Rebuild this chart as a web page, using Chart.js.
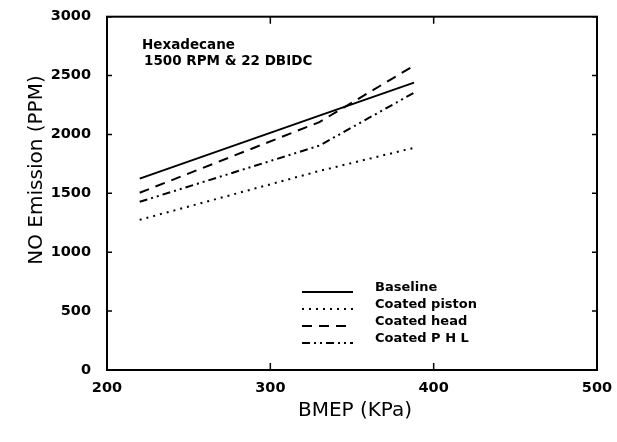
<!DOCTYPE html>
<html>
<head>
<meta charset="utf-8">
<script src="https://cdn.jsdelivr.net/npm/chart.js@4.4.1/dist/chart.umd.min.js"></script>
<style>
  html, body { margin: 0; padding: 0; background: #fff; }
  #wrap { width: 617px; height: 442px; position: relative; }
</style>
</head>
<body>
<div id="wrap"><canvas id="chartNO"></canvas></div>
<script>
// BMEP (KPa) at each measured load
var bmep = [220, 330, 388];

// NO emission (PPM)
var baseline = [1625, 2160, 2440];
var coatedPiston = [1275, 1690, 1887];
var coatedHead = [1505, 2105, 2585];
var coatedPHL = [1428, 1905, 2355];

var xTicks = [200, 300, 400, 500];
var yTicks = [0, 500, 1000, 1500, 2000, 2500, 3000];

var seriesNames = ["Baseline", "Coated piston", "Coated head", "Coated P H L"];
var seriesDash = [[], [2, 5], [10, 7], [8, 4, 2, 4, 2, 4]];

var FONT = "'DejaVu Sans', sans-serif";

function points(ys) {
  return bmep.map(function (x, i) { return { x: x, y: ys[i] }; });
}

function lineSet(label, ys, dash) {
  return {
    label: label,
    data: points(ys),
    borderColor: "#000",
    borderWidth: 2,
    borderDash: dash,
    pointRadius: 0,
    fill: false,
    tension: 0
  };
}

// box, inward ticks, legend, notes and axis titles
var decorations = {
  id: "decorations",
  afterDraw: function (chart) {
    var ctx = chart.ctx;
    var a = chart.chartArea;
    var xs = chart.scales.x;
    var ys = chart.scales.y;

    ctx.save();
    ctx.strokeStyle = "#000";
    ctx.lineWidth = 2;
    ctx.setLineDash([]);
    ctx.strokeRect(a.left, a.top, a.right - a.left, a.bottom - a.top);

    ctx.lineWidth = 1.5;
    ctx.beginPath();
    xTicks.forEach(function (v) {
      var px = xs.getPixelForValue(v);
      ctx.moveTo(px, a.bottom); ctx.lineTo(px, a.bottom - 7);
      ctx.moveTo(px, a.top); ctx.lineTo(px, a.top + 7);
    });
    yTicks.forEach(function (v) {
      var py = ys.getPixelForValue(v);
      ctx.moveTo(a.left, py); ctx.lineTo(a.left + 5, py);
      ctx.moveTo(a.right, py); ctx.lineTo(a.right - 5, py);
    });
    ctx.stroke();

    // legend
    ctx.fillStyle = "#000";
    ctx.font = "bold 13px " + FONT;
    ctx.textBaseline = "middle";
    ctx.textAlign = "left";
    var rowY = [288, 305, 322, 339];
    seriesNames.forEach(function (name, i) {
      ctx.lineWidth = 2;
      ctx.setLineDash(seriesDash[i]);
      ctx.beginPath();
      ctx.moveTo(302, rowY[i] + 4);
      ctx.lineTo(353, rowY[i] + 4);
      ctx.stroke();
      ctx.fillText(name, 375, rowY[i]);
    });
    ctx.setLineDash([]);

    // notes
    ctx.font = "bold 13.5px " + FONT;
    ctx.fillText("Hexadecane", 142, 45);
    ctx.fillText("1500 RPM & 22 DBIDC", 144, 61);

    // axis titles
    ctx.font = "20px " + FONT;
    ctx.textAlign = "center";
    ctx.fillText("BMEP (KPa)", 355, 411);
    ctx.translate(37, 170);
    ctx.rotate(-Math.PI / 2);
    ctx.fillText("NO Emission (PPM)", 0, 0);
    ctx.restore();
  }
};

document.addEventListener("DOMContentLoaded", function () {
  var el = document.getElementById("chartNO");

  new Chart(el, {
    type: "line",
    data: {
      datasets: [
        lineSet(seriesNames[0], baseline, seriesDash[0]),
        lineSet(seriesNames[1], coatedPiston, seriesDash[1]),
        lineSet(seriesNames[2], coatedHead, seriesDash[2]),
        lineSet(seriesNames[3], coatedPHL, seriesDash[3])
      ]
    },
    options: {
      responsive: true,
      maintainAspectRatio: false,
      animation: false,
      layout: { padding: { left: 0, right: 20, top: 16, bottom: 0 } },
      plugins: {
        legend: { display: false },
        tooltip: { enabled: false }
      },
      scales: {
        x: {
          type: "linear",
          min: 200,
          max: 500,
          afterFit: function (s) { s.height = 72; },
          afterBuildTicks: function (s) {
            s.ticks = xTicks.map(function (v) { return { value: v }; });
          },
          grid: { display: false },
          border: { display: false },
          ticks: {
            color: "#000",
            padding: 2,
            maxRotation: 0,
            callback: function (v) { return String(v); },
            font: { family: FONT, size: 14.5, weight: "bold" }
          }
        },
        y: {
          min: 0,
          max: 3000,
          afterFit: function (s) { s.width = 107; },
          afterBuildTicks: function (s) {
            s.ticks = yTicks.map(function (v) { return { value: v }; });
          },
          grid: { display: false },
          border: { display: false },
          ticks: {
            color: "#000",
            padding: 8,
            callback: function (v) { return String(v); },
            font: { family: FONT, size: 14.5, weight: "bold" }
          }
        }
      }
    },
    plugins: [decorations]
  });
});
</script>
</body>
</html>
